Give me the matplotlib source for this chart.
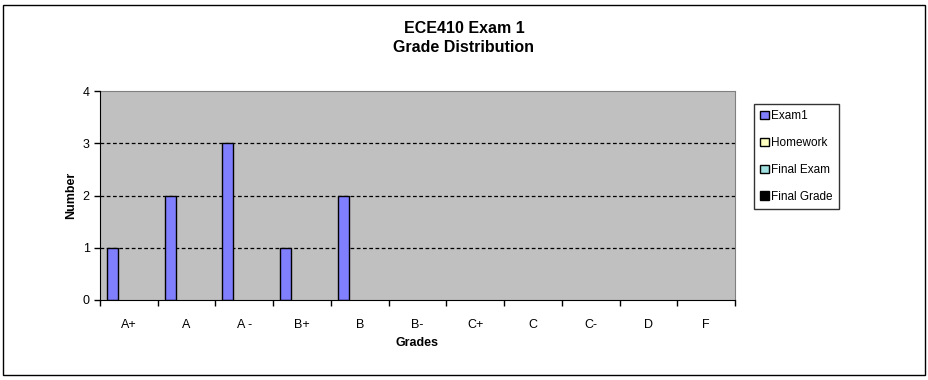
import matplotlib.pyplot as plt
import numpy as np
from matplotlib.patches import Rectangle

plt.rcParams['font.family'] = ['Liberation Sans', 'DejaVu Sans']

grades = ['A+', 'A', 'A -', 'B+', 'B', 'B-', 'C+', 'C', 'C-', 'D', 'F']
exam1 = [1, 2, 3, 1, 2, 0, 0, 0, 0, 0, 0]
homework = [0] * 11
final_exam = [0] * 11
final_grade = [0] * 11

series = ['Exam1', 'Homework', 'Final Exam', 'Final Grade']
colors = ['#8080FF', '#FFFFC0', '#A0E0E0', '#000000']

fig = plt.figure(figsize=(9.29, 3.80), dpi=100)
fig.patches.append(Rectangle((3 / 929, 5 / 380), 922 / 929, 370 / 380, transform=fig.transFigure,
                             fill=False, edgecolor='black', linewidth=1))
ax = fig.add_axes([100 / 929, 80 / 380, 635 / 929, 209 / 380])
ax.set_facecolor('#C0C0C0')

x = np.arange(len(grades))
w = 11 / 58
start = -0.5 + 7 / 58 + w / 2
for i, (vals, name, c) in enumerate(zip([exam1, homework, final_exam, final_grade], series, colors)):
    bars = ax.bar(x + start + i * w, vals, w, color=c, edgecolor='black', linewidth=1, label=name, zorder=2.3)
    # empty bars show no outline along the axis
    for b, v in zip(bars, vals):
        if v == 0:
            b.set_visible(False)

ax.set_xlim(-0.5, len(grades) - 0.5)
ax.set_ylim(0, 4)
ax.set_yticks([0, 1, 2, 3, 4])
ax.set_xticks(np.arange(-0.5, len(grades), 1))
ax.set_xticklabels([])
ax.set_xticks(x, minor=True)
ax.set_xticklabels(grades, minor=True, fontsize=9)
ax.tick_params(axis='x', which='minor', length=0, pad=14)
ax.tick_params(axis='x', which='major', direction='out', length=4, width=1)
ax.tick_params(axis='y', direction='out', length=4, width=1, labelsize=9)
for v in [1, 2, 3]:
    ax.axhline(v, color='black', linestyle=(0, (3, 2)), linewidth=0.9, zorder=2)
for s in ['top', 'right']:
    ax.spines[s].set_color('#808080')
for s in ['left', 'bottom']:
    ax.spines[s].set_color('black')
    ax.spines[s].set_zorder(3)

ax.set_xlabel('Grades', fontsize=9, fontweight='bold', labelpad=4)
ax.set_ylabel('Number', fontsize=9, fontweight='bold', labelpad=4)
fig.text(464 / 929, 1 - 38 / 380, 'ECE410 Exam 1\nGrade Distribution', ha='center', va='center',
         fontsize=11.5, fontweight='bold', linespacing=1.35)

leg = ax.legend(loc='upper left', bbox_to_anchor=(754 / 929, 1 - 104 / 380), bbox_transform=fig.transFigure,
                fontsize=8.5, frameon=True, fancybox=False, edgecolor='black', handlelength=0.7,
                handleheight=0.7, handletextpad=0.2, labelspacing=1.25, borderpad=0.55, borderaxespad=0)
leg.get_frame().set_linewidth(1)
for h in leg.legend_handles:
    h.set_visible(True)

fig.savefig('out.png', dpi=100, facecolor='white')
